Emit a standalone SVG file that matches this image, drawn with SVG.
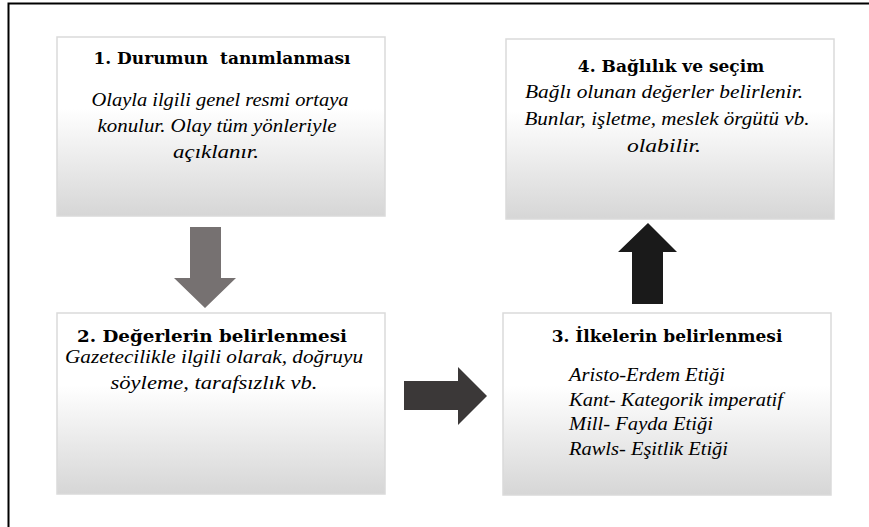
<svg xmlns="http://www.w3.org/2000/svg" width="869" height="527" viewBox="0 0 869 527">
<defs>
<linearGradient id="boxGrad" x1="0" y1="0" x2="0" y2="1">
<stop offset="0" stop-color="#ffffff"/>
<stop offset="0.4" stop-color="#ffffff"/>
<stop offset="1" stop-color="#d6d6d6"/>
</linearGradient>
</defs>
<style>
.box{fill:url(#boxGrad);stroke:#dadada;stroke-width:1.5}
.title{font-family:"DejaVu Serif","Liberation Serif",serif;font-weight:bold;font-size:17px;fill:#000;text-anchor:middle;white-space:pre}
.body{font-family:"Liberation Serif","Times New Roman",serif;font-style:italic;font-size:19px;fill:#000;text-anchor:middle}
.list{font-family:"Liberation Serif","Times New Roman",serif;font-style:italic;font-size:19px;fill:#000}
</style>
<rect width="869" height="527" fill="#ffffff"/>
<g id="frame">
<path d="M8.5 527 V3.5 H869" fill="none" stroke="#000" stroke-width="2"/>
</g>
<g id="connectors">
<polygon id="arrow-1-2" points="190,227 221,227 221,278 236,278 205,308 174,278 190,278" fill="#767171"/>
<polygon id="arrow-2-3" points="404,381 458,381 458,367 487,396 458,425 458,410 404,410" fill="#3b3838"/>
<polygon id="arrow-3-4" points="632,304 663,304 663,252 677,252 648,223 618,252 632,252" fill="#1a1a1a"/>
</g>
<g id="node1">
<rect class="box" x="57" y="37" width="328" height="179"/>
<text class="title" x="222" y="64" xml:space="preserve">1. Durumun  tanımlanması</text>
<text class="body" x="220" y="106" textLength="257" lengthAdjust="spacingAndGlyphs">Olayla ilgili genel resmi ortaya</text>
<text class="body" x="217" y="132" textLength="239" lengthAdjust="spacingAndGlyphs">konulur. Olay tüm yönleriyle</text>
<text class="body" x="216" y="158" textLength="86" lengthAdjust="spacingAndGlyphs">açıklanır.</text>
</g>
<g id="node2">
<rect class="box" x="57" y="313" width="328" height="181"/>
<text class="title" x="212" y="342" textLength="270" lengthAdjust="spacingAndGlyphs">2. Değerlerin belirlenmesi</text>
<text class="body" x="214" y="363" textLength="298" lengthAdjust="spacingAndGlyphs">Gazetecilikle  ilgili olarak, doğruyu</text>
<text class="body" x="214" y="389" textLength="207" lengthAdjust="spacingAndGlyphs">söyleme,  tarafsızlık vb.</text>
</g>
<g id="node3">
<rect class="box" x="503" y="313" width="328" height="182"/>
<text class="title" x="667" y="342">3. İlkelerin belirlenmesi</text>
<text class="list" x="569" y="381" textLength="156" lengthAdjust="spacingAndGlyphs">Aristo-Erdem Etiği</text>
<text class="list" x="569" y="406" textLength="214" lengthAdjust="spacingAndGlyphs">Kant- Kategorik imperatif</text>
<text class="list" x="569" y="430" textLength="144" lengthAdjust="spacingAndGlyphs">Mill- Fayda Etiği</text>
<text class="list" x="569" y="455" textLength="159" lengthAdjust="spacingAndGlyphs">Rawls- Eşitlik Etiği</text>
</g>
<g id="node4">
<rect class="box" x="506" y="39" width="328" height="180"/>
<text class="title" x="671" y="72">4. Bağlılık ve seçim</text>
<text class="body" x="664" y="98" textLength="278" lengthAdjust="spacingAndGlyphs">Bağlı olunan değerler belirlenir.</text>
<text class="body" x="667" y="125" textLength="285" lengthAdjust="spacingAndGlyphs">Bunlar, işletme, meslek örgütü vb.</text>
<text class="body" x="664" y="152" textLength="74" lengthAdjust="spacingAndGlyphs">olabilir.</text>
</g>
</svg>
